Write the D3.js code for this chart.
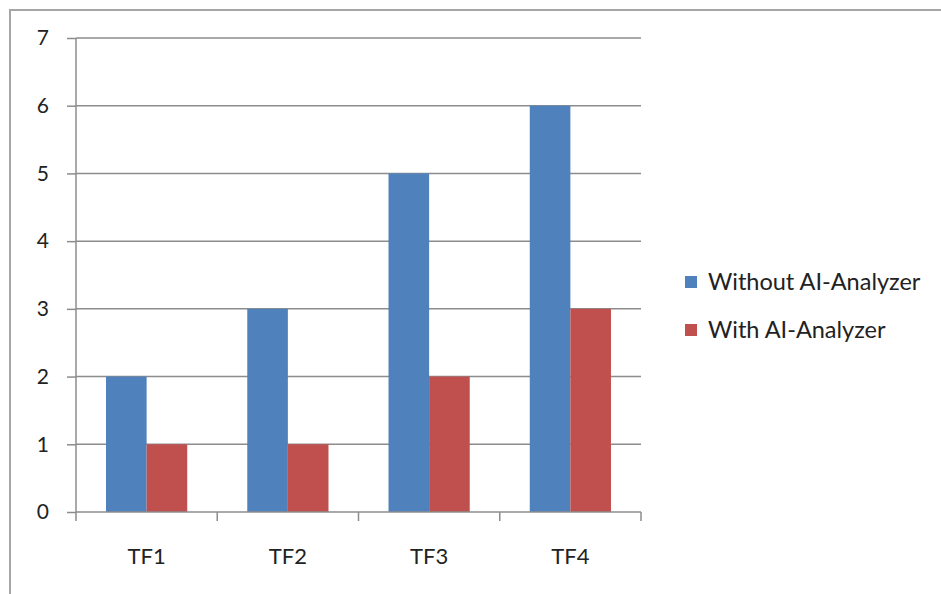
<!DOCTYPE html>
<html>
<head>
<meta charset="utf-8">
<script src="https://cdn.jsdelivr.net/npm/d3@7"></script>
<style>
  html, body { margin: 0; padding: 0; background: #fff; }
  svg { display: block; font-family: Lato, "Open Sans", sans-serif; }
</style>
</head>
<body>
<svg id="chart" width="941" height="594"></svg>
<script>
// Chart data
const categories = ["TF1", "TF2", "TF3", "TF4"];
const seriesNames = ["Without AI-Analyzer", "With AI-Analyzer"];
const withoutAnalyzer = [2, 3, 5, 6];
const withAnalyzer = [1, 1, 2, 3];
const yTicks = [0, 1, 2, 3, 4, 5, 6, 7];
const colors = ["#4F81BD", "#C0504D"];

const series = [withoutAnalyzer, withAnalyzer];

const svg = d3.select("#chart");

// Outer chart frame
svg.append("rect")
  .attr("x", 10).attr("y", 10)
  .attr("width", 1000).attr("height", 1000)
  .attr("fill", "none")
  .attr("stroke", "#a6a6a6")
  .attr("stroke-width", 2);

const plot = { left: 76, right: 641, top: 38, bottom: 512 };

const x = d3.scaleBand()
  .domain(categories)
  .range([plot.left, plot.right])
  .paddingInner(0)
  .paddingOuter(0);

const y = d3.scaleLinear()
  .domain([0, 7])
  .range([plot.bottom, plot.top]);

const g = svg.append("g");

// Horizontal gridlines
g.selectAll("line.grid")
  .data(yTicks.filter(d => d > 0))
  .join("line")
  .attr("class", "grid")
  .attr("x1", plot.left).attr("x2", plot.right)
  .attr("y1", d => y(d)).attr("y2", d => y(d))
  .attr("stroke", "#8c8c8c")
  .attr("stroke-width", 1.5);

// Bars, two per category
const groupFrac = 0.575;
const barW = x.bandwidth() * groupFrac / 2;
categories.forEach((c, i) => {
  const cx = x(c) + x.bandwidth() / 2;
  series.forEach((s, j) => {
    g.append("rect")
      .attr("x", cx - barW + j * barW)
      .attr("y", y(s[i]))
      .attr("width", barW)
      .attr("height", y(0) - y(s[i]))
      .attr("fill", colors[j]);
  });
});

// Y axis
const yAxis = d3.axisLeft(y).tickValues(yTicks).tickSize(9).tickPadding(18).tickFormat(d3.format("d"));
const ya = svg.append("g")
  .attr("transform", `translate(${plot.left},0)`)
  .call(yAxis);
ya.select(".domain").attr("stroke", "#8c8c8c").attr("stroke-width", 1.5).attr("d", `M0,${plot.top}V${plot.bottom}`);
ya.selectAll(".tick line").attr("stroke", "#8c8c8c").attr("stroke-width", 1.5);
ya.selectAll(".tick text").attr("font-size", 21).attr("fill", "#222").attr("font-family", "Lato, sans-serif");

// X axis with ticks at category boundaries
const xa = svg.append("g")
  .attr("transform", `translate(0,${plot.bottom})`);
xa.append("line")
  .attr("x1", plot.left).attr("x2", plot.right)
  .attr("y1", 0).attr("y2", 0)
  .attr("stroke", "#8c8c8c").attr("stroke-width", 1.5);
const bounds = categories.map(c => x(c)).concat([x(categories[categories.length - 1]) + x.bandwidth()]);
xa.selectAll("line.tk")
  .data(bounds)
  .join("line")
  .attr("class", "tk")
  .attr("x1", d => d).attr("x2", d => d)
  .attr("y1", 0).attr("y2", 9)
  .attr("stroke", "#8c8c8c").attr("stroke-width", 1.5);
xa.selectAll("text")
  .data(categories)
  .join("text")
  .attr("x", d => x(d) + x.bandwidth() / 2)
  .attr("y", 52)
  .attr("text-anchor", "middle")
  .attr("font-size", 22)
  .attr("fill", "#222")
  .text(d => d);

// Legend
const legend = svg.append("g").attr("transform", "translate(685,276)");
seriesNames.forEach((name, i) => {
  const row = legend.append("g").attr("transform", `translate(0,${i * 48})`);
  row.append("rect").attr("width", 12).attr("height", 12).attr("fill", colors[i]);
  row.append("text")
    .attr("x", 23).attr("y", 13.5)
    .attr("font-size", 23.5)
    .attr("fill", "#222")
    .text(name);
});
</script>
</body>
</html>
